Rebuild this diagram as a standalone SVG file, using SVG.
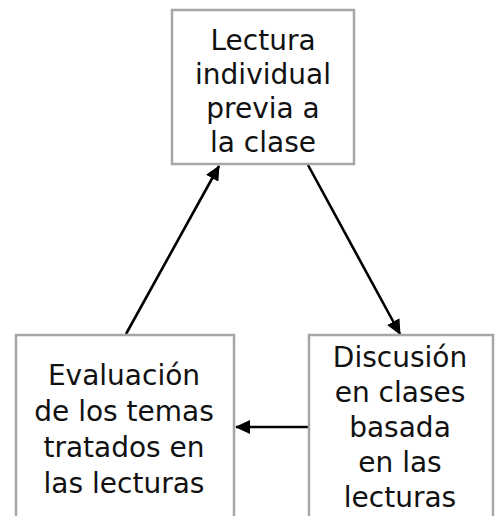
<svg xmlns="http://www.w3.org/2000/svg" width="499" height="516" viewBox="0 0 499 516">
<defs>
<marker id="ah" markerWidth="15" markerHeight="14" refX="14" refY="7" orient="auto" markerUnits="userSpaceOnUse">
<path d="M0,0 L15,7 L0,14 Z" fill="#000"/>
</marker>
<style>
.box{fill:#fff;stroke:#a6a6a6;stroke-width:2.5}
.t{font-family:"DejaVu Sans",sans-serif;font-size:28px;fill:#111;text-anchor:middle}
.c{stroke:#000;stroke-width:2.6;fill:none;marker-end:url(#ah)}
</style>
</defs>
<rect width="499" height="516" fill="#fff"/>
<g id="connectors">
<line class="c" x1="126" y1="334" x2="219" y2="166"/>
<line class="c" x1="308" y1="165" x2="400" y2="334"/>
<line class="c" x1="308" y1="427" x2="236" y2="427"/>
</g>
<g id="n1">
<rect class="box" x="172" y="10" width="182" height="154"/>
<text class="t" x="263" y="50">Lectura</text>
<text class="t" x="263" y="84">individual</text>
<text class="t" x="263" y="118">previa a</text>
<text class="t" x="263" y="152">la clase</text>
</g>
<g id="n2">
<rect class="box" x="309" y="335" width="184" height="200"/>
<text class="t" x="400" y="367">Discusión</text>
<text class="t" x="400" y="402">en clases</text>
<text class="t" x="400" y="437">basada</text>
<text class="t" x="400" y="472">en las</text>
<text class="t" x="400" y="507">lecturas</text>
</g>
<g id="n3">
<rect class="box" x="16" y="335" width="218" height="200"/>
<text class="t" x="124" y="385">Evaluación</text>
<text class="t" x="124" y="421">de los temas</text>
<text class="t" x="124" y="457">tratados en</text>
<text class="t" x="124" y="493">las lecturas</text>
</g>
</svg>
